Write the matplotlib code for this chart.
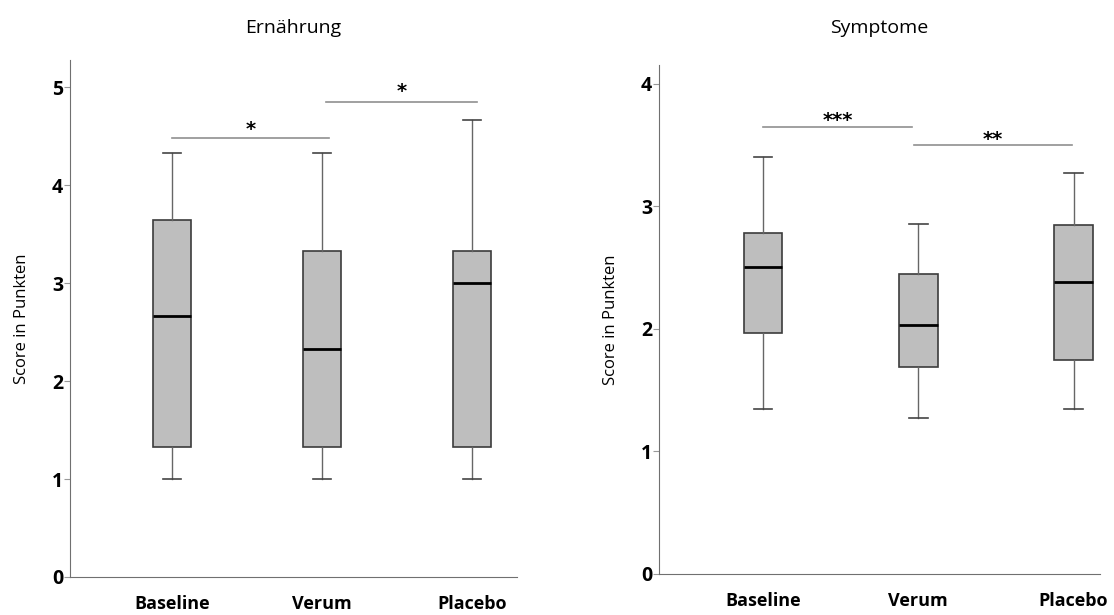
import matplotlib
matplotlib.use("Agg")
import matplotlib.pyplot as plt

plt.rcParams['font.family'] = ['Open Sans', 'DejaVu Sans']

groups = ['Baseline', 'Verum', 'Placebo']

# Ernährung
ern_whislo = [1.0, 1.0, 1.0]
ern_q1 = [1.33, 1.33, 1.33]
ern_med = [2.67, 2.33, 3.0]
ern_q3 = [3.65, 3.33, 3.33]
ern_whishi = [4.33, 4.33, 4.67]
# (von, bis, Linie, Stern-Höhe, Text)
ern_sig = [(1.0, 2.05, 4.48, 4.57, '*'), (2.03, 3.03, 4.85, 4.96, '*')]

# Symptome
sym_whislo = [1.35, 1.27, 1.35]
sym_q1 = [1.97, 1.69, 1.75]
sym_med = [2.51, 2.03, 2.38]
sym_q3 = [2.78, 2.45, 2.85]
sym_whishi = [3.40, 2.86, 3.27]
sym_sig = [(1.0, 1.96, 3.65, 3.70, '***'), (1.97, 2.99, 3.50, 3.55, '**')]


def draw_panel(ax, title, lo, q1, med, q3, hi, sig, ylim, yticks, xlim):
    stats = []
    for i, g in enumerate(groups):
        stats.append(dict(label=g, whislo=lo[i], q1=q1[i], med=med[i],
                          q3=q3[i], whishi=hi[i], fliers=[]))
    ax.bxp(stats, positions=[1, 2, 3], widths=0.25, patch_artist=True,
           boxprops=dict(facecolor='#bebebe', edgecolor='#3c3c3c', linewidth=1.2),
           medianprops=dict(color='black', linewidth=2),
           whiskerprops=dict(color='#666666', linewidth=1),
           capprops=dict(color='#444444', linewidth=1.2),
           capwidths=0.12, showfliers=False)

    for x0, x1, y, ys, s in sig:
        ax.plot([x0, x1], [y, y], color='#909090', linewidth=1.2)
        ax.text((x0 + x1) / 2, ys, s, ha='center', va='center',
                fontsize=14, fontweight='bold', family='DejaVu Sans')

    ax.set_xlim(*xlim)
    ax.set_ylim(*ylim)
    ax.set_yticks(yticks)
    ax.set_xticks([1, 2, 3])
    ax.set_xticklabels(groups, fontsize=13, fontweight='bold')
    ax.tick_params(axis='x', length=0, pad=13)
    ax.tick_params(axis='y', length=4, color='#999999', labelsize=14, pad=1)
    for lab in ax.get_yticklabels():
        lab.set_fontweight('bold')
    ax.spines['top'].set_visible(False)
    ax.spines['right'].set_visible(False)
    ax.spines['left'].set_color('#707070')
    ax.spines['bottom'].set_color('#707070')
    ax.set_ylabel('Score in Punkten', fontsize=12, labelpad=16)
    pos = ax.get_position()
    ax.figure.text((pos.x0 + pos.x1) / 2, 0.954, title, fontsize=14,
                   ha='center', va='center')


fig = plt.figure(figsize=(11.14, 6.15), dpi=100)
ax1 = fig.add_axes([0.0628, 0.0618, 0.4013, 0.8406])
ax2 = fig.add_axes([0.5916, 0.0667, 0.3958, 0.8276])

draw_panel(ax1, 'Ernährung', ern_whislo, ern_q1, ern_med, ern_q3, ern_whishi,
           ern_sig, (0, 5.28), [0, 1, 2, 3, 4, 5], (0.32, 3.3))
draw_panel(ax2, 'Symptome', sym_whislo, sym_q1, sym_med, sym_q3, sym_whishi,
           sym_sig, (0, 4.155), [0, 1, 2, 3, 4], (0.33, 3.17))

fig.savefig('out.png', dpi=100)
